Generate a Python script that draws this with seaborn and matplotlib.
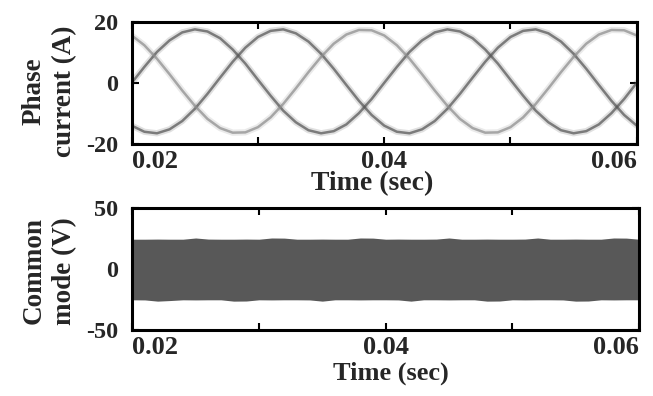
import matplotlib
matplotlib.use("Agg")
import numpy as np
import pandas as pd
import matplotlib.pyplot as plt
import seaborn as sns

# sample times (ms)
time_ms = [20, 21, 22, 23, 24, 25, 26, 27, 28, 29, 30, 31, 32, 33, 34, 35, 36, 37, 38, 39, 40,
           41, 42, 43, 44, 45, 46, 47, 48, 49, 50, 51, 52, 53, 54, 55, 56, 57, 58, 59, 60]

# phase currents (A)
phase_a = [0.0, 5.2, 10.1, 13.9, 16.5, 17.5, 16.8, 14.6, 10.9, 6.3, 1.0, -4.2, -9.1, -12.9, -15.5, -16.5, -15.8, -13.6, -9.9, -5.3,
           0.0, 5.2, 10.1, 13.9, 16.5, 17.5, 16.8, 14.6, 10.9, 6.3, 1.0, -4.2, -9.1, -12.9, -15.5, -16.5, -15.8, -13.6, -9.9, -5.3,
           0.0]
phase_b = [-14.0, -16.0, -16.5, -15.2, -12.5, -8.5, -3.6, 1.7, 6.9, 11.5, 15.0, 17.0, 17.5, 16.2, 13.5, 9.5, 4.6, -0.7, -5.9, -10.5,
           -14.0, -16.0, -16.5, -15.2, -12.5, -8.5, -3.6, 1.7, 6.9, 11.5, 15.0, 17.0, 17.5, 16.2, 13.5, 9.5, 4.6, -0.7, -5.9, -10.5,
           -14.0]
phase_c = [15.5, 12.3, 7.9, 2.8, -2.5, -7.5, -11.8, -14.8, -16.3, -16.2, -14.5, -11.3, -6.9, -1.8, 3.5, 8.5, 12.8, 15.8, 17.3, 17.2,
           15.5, 12.3, 7.9, 2.8, -2.5, -7.5, -11.8, -14.8, -16.3, -16.2, -14.5, -11.3, -6.9, -1.8, 3.5, 8.5, 12.8, 15.8, 17.3, 17.2,
           15.5]

# common mode voltage envelope (V) - PWM band
cm_upper = [24.6, 24.6, 24.7, 24.6, 24.6, 25.6, 24.7, 24.6, 24.6, 24.7, 24.6, 25.6, 25.5, 24.6, 24.6, 24.7, 24.6, 24.6, 25.6, 25.5,
            24.6, 24.7, 24.6, 24.6, 24.7, 25.6, 24.6, 24.6, 24.7, 24.6, 24.6, 24.7, 25.6, 24.6, 24.6, 24.7, 24.6, 24.6, 25.6, 25.5, 24.6]
cm_lower = [-25.2, -25.3, -26.3, -25.8, -25.2, -25.3, -25.2, -25.2, -26.3, -26.2, -25.2, -25.3, -25.2, -25.2, -25.3, -26.3, -25.2, -25.2, -25.3, -25.2,
            -25.2, -25.3, -26.3, -25.2, -25.2, -25.3, -25.2, -25.2, -26.3, -26.2, -25.2, -25.3, -25.2, -25.2, -25.3, -26.3, -26.2, -25.2, -25.3, -25.2, -25.2]

x_ticks = [0.02, 0.03, 0.04, 0.05, 0.06]
x_labels = ['0.02', '', '0.04', '', '0.06']

sns.set_theme(style="white")
plt.rcParams['font.family'] = ['Liberation Serif', 'DejaVu Serif']
plt.rcParams['font.weight'] = 'bold'

time_s = [t / 1000 for t in time_ms]
df = pd.DataFrame({
    'time': time_s * 3,
    'current': phase_a + phase_b + phase_c,
    'phase': ['a'] * len(time_s) + ['b'] * len(time_s) + ['c'] * len(time_s),
})
pal = {'a': '#555555', 'b': '#555555', 'c': '#8c8c8c'}

fig = plt.figure(figsize=(6.53, 3.96), dpi=100)
ax1 = fig.add_axes([0.2017, 0.6364, 0.7734, 0.3088])
ax2 = fig.add_axes([0.2026, 0.1667, 0.7760, 0.3073])

# blurred looking traces: wide faint + narrow darker
sns.lineplot(data=df, x='time', y='current', hue='phase', palette=pal, estimator=None,
             linewidth=4.5, alpha=0.18, legend=False, ax=ax1)
sns.lineplot(data=df, x='time', y='current', hue='phase', palette=pal, estimator=None,
             linewidth=1.8, alpha=0.72, legend=False, ax=ax1)

ax2.fill_between(time_s, cm_lower, cm_upper, color='#585858', linewidth=0)

for ax, yt, ylab, ly in [(ax1, [-20, 0, 20], 'Phase\ncurrent (A)', 0.43),
                         (ax2, [-50, 0, 50], 'Common\nmode (V)', 0.485)]:
    ax.set_xlim(0.02, 0.06)
    ax.set_ylim(yt[0], yt[-1])
    ax.set_xticks(x_ticks)
    ax.set_xticklabels(x_labels)
    ax.set_yticks(yt)
    ax.set_yticklabels([str(v) for v in yt])
    ax.tick_params(axis='both', direction='in', length=5, width=1.5, color='black',
                   top=True, right=True, bottom=True, left=True)
    ax.tick_params(axis='x', labelsize=19, pad=4)
    ax.tick_params(axis='y', labelsize=17.5, pad=10)
    lbls = ax.get_xticklabels()
    lbls[0].set_ha('left')
    lbls[-1].set_ha('right')
    for s in ax.spines.values():
        s.set_linewidth(2.2)
        s.set_color('black')
    ax.set_ylabel(ylab, fontsize=19.5, fontweight='bold', linespacing=1.3)
    ax.yaxis.set_label_coords(-0.108, ly)

ax1.set_xlabel('Time (sec)', fontsize=20, fontweight='bold')
ax2.set_xlabel('Time (sec)', fontsize=19, fontweight='bold')
ax1.xaxis.set_label_coords(0.476, -0.22)
ax2.xaxis.set_label_coords(0.51, -0.26)

fig.savefig('out.png', dpi=100)
